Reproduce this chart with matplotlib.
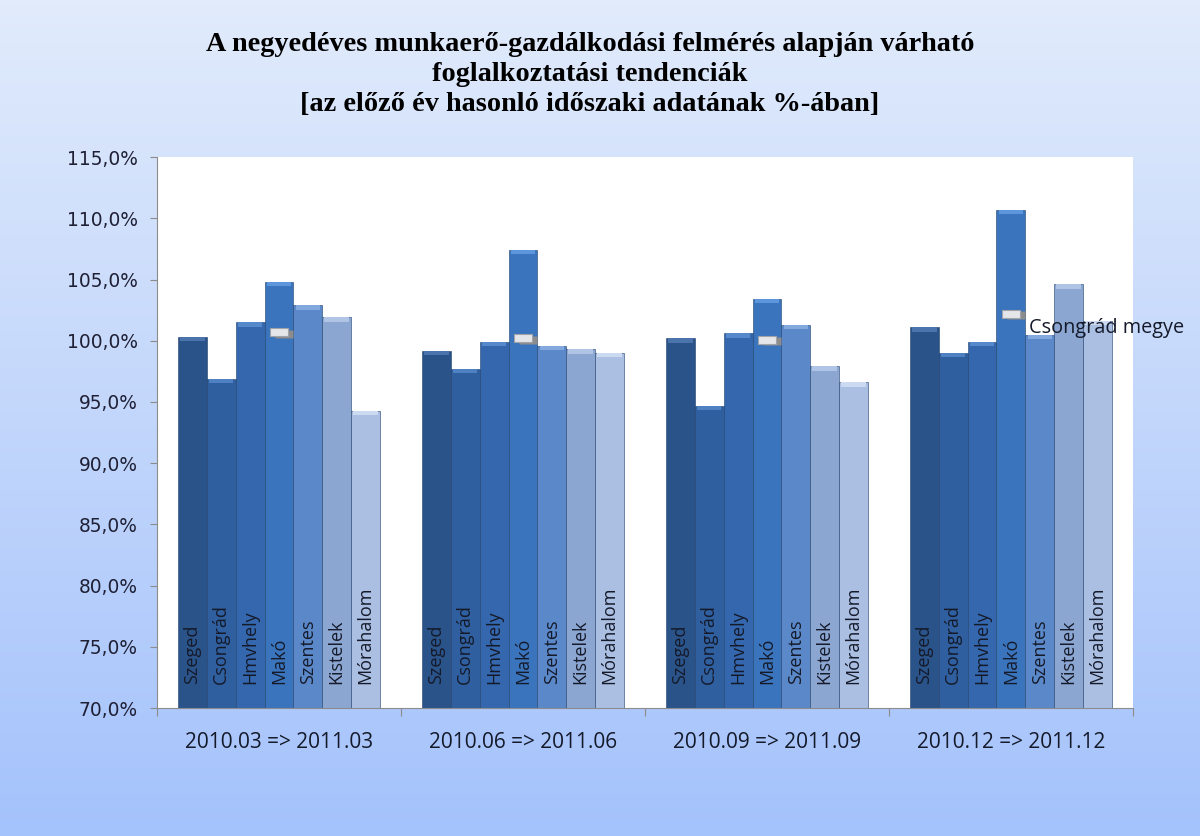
import numpy as np
import matplotlib.pyplot as plt
from matplotlib.colors import LinearSegmentedColormap
from matplotlib.ticker import FixedLocator, FuncFormatter

# adatok (leolvasva az abrarol)
periods = ['2010.03 => 2011.03', '2010.06 => 2011.06', '2010.09 => 2011.09', '2010.12 => 2011.12']
towns = ['Szeged', 'Csongrád', 'Hmvhely', 'Makó', 'Szentes', 'Kistelek', 'Mórahalom']
szeged = [100.3, 99.2, 100.2, 101.1]
csongrad = [96.9, 97.7, 94.7, 99.0]
hmvhely = [101.5, 99.9, 100.6, 99.9]
mako = [104.8, 107.4, 103.4, 110.7]
szentes = [102.9, 99.6, 101.3, 100.5]
kistelek = [101.9, 99.3, 97.9, 104.6]
morahalom = [94.3, 99.0, 96.6, 101.6]
megye = [100.7, 100.2, 100.1, 102.2]
megye_name = 'Csongrád megye'
yticks = [70, 75, 80, 85, 90, 95, 100, 105, 110, 115]

series = [szeged, csongrad, hmvhely, mako, szentes, kistelek, morahalom]
colors = ['#2a5389', '#2f5f9f', '#3467ad', '#3a74bd', '#5a88c9', '#8ca6d2', '#aabfe2']
caps = ['#4a74ab', '#4f80c2', '#5589cc', '#5d96dc', '#82a8de', '#b0c4e6', '#cbd9f1']

fig = plt.figure(figsize=(12, 8.36), dpi=100)

# hatter szinatmenet
bg = fig.add_axes([0, 0, 1, 1], zorder=-1)
cmap = LinearSegmentedColormap.from_list('bg', ['#a4c2fb', '#e1ebfc'])
grad = np.linspace(0, 1, 256).reshape(-1, 1)
bg.imshow(grad, aspect='auto', cmap=cmap, extent=[0, 1, 0, 1], origin='lower')
bg.axis('off')

ax = fig.add_axes([0.1308, 0.1531, 0.8133, 0.659])
ax.set_facecolor('white')
ax.set_xlim(0, len(periods))
ax.set_ylim(70, 115)

centers = np.arange(len(periods)) + 0.5
w = 0.1183
for j, (name, vals) in enumerate(zip(towns, series)):
    xs = centers + (j - 3) * w
    vals = np.array(vals)
    ax.bar(xs, vals, width=w, color=colors[j], edgecolor='#1f3f6a', linewidth=0.4, zorder=2)
    ax.bar(xs, 0.35, bottom=vals - 0.35, width=w * 0.85, color=caps[j], linewidth=0, zorder=3)
    for x in xs:
        ax.text(x, 72.0, name, rotation=90, ha='center', va='bottom',
                fontsize=13, family='Open Sans', color='#151a2a', zorder=4)

# megyei atlag jelolo
dash = [(-1, -0.45), (1, -0.45), (1, 0.45), (-1, 0.45), (-1, -0.45)]
ax.plot(centers + 0.02, np.array(megye) - 0.12, linestyle='none', marker=dash, markersize=13,
        mfc='#8c8c8c', mec='none', zorder=5)
ax.plot(centers, megye, linestyle='none', marker=dash, markersize=13,
        mfc='#e4e6ea', mec='#a0a4aa', mew=0.8, zorder=6)
ax.annotate(megye_name, (centers[-1], megye[-1]), xytext=(13, -10), textcoords='offset points',
            ha='left', va='center', fontsize=14.3, family='Open Sans', color='#151a2a',
            annotation_clip=False, zorder=7)

# tengelyek
for s in ['top', 'right']:
    ax.spines[s].set_visible(False)
for s in ['left', 'bottom']:
    ax.spines[s].set_color('#8c8c8c')
ax.yaxis.set_major_locator(FixedLocator(yticks))
ax.yaxis.set_major_formatter(FuncFormatter(lambda v, p: ('%.1f%%' % v).replace('.', ',')))
ax.tick_params(axis='y', direction='out', length=5, color='#8c8c8c', pad=9,
               labelsize=13.4, labelcolor='#1f2035')
ax.set_xticks(np.arange(len(periods) + 1))
ax.set_xticks(centers, minor=True)
ax.set_xticklabels(periods, minor=True)
ax.tick_params(axis='x', which='major', direction='out', length=6, color='#8c8c8c', labelbottom=False)
ax.tick_params(axis='x', which='minor', length=0, pad=17, labelsize=15, labelcolor='#151a2a')
for lab in ax.get_xticklabels(minor=True):
    lab.set_family('Open Sans')

fig.text(0.4917, 0.911, 'A negyedéves munkaerő-gazdálkodási felmérés alapján várható\n'
         'foglalkoztatási tendenciák\n[az előző év hasonló időszaki adatának %-ában]',
         ha='center', va='center', fontsize=20.3, fontweight='bold', family='Liberation Serif',
         linespacing=1.26, color='black')

fig.savefig('out.png', dpi=100)
